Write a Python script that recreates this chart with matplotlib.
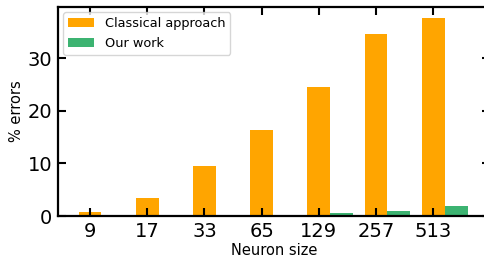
import numpy as np
import matplotlib.pyplot as plt

neuron_sizes = ["9", "17", "33", "65", "129", "257", "513"]
classical = [0.8, 3.4, 9.5, 16.4, 24.5, 34.6, 37.6]
our_work = [0.0, 0.0, 0.0, 0.0, 0.55, 0.95, 1.9]


def plot():
    fig = plt.figure(figsize=(4.85, 2.64), dpi=100)
    ax = fig.add_axes([0.1196, 0.1818, 0.8904, 0.7917])

    x = np.arange(len(neuron_sizes))
    width = 0.4
    ax.bar(x, classical, width, color="orange", label="Classical approach")
    ax.bar(x + width, our_work, width, color="mediumseagreen", label="Our work")

    ax.set_xticks(x)
    ax.set_xticklabels(neuron_sizes)
    ax.set_xlim(-0.56, 6.99)
    ax.set_ylim(0, 39.7)
    ax.set_yticks([0, 10, 20, 30])

    ax.tick_params(direction="in", top=True, right=True, length=6, width=1.5,
                   labelsize=14, pad=4)
    for s in ax.spines.values():
        s.set_linewidth(1.6)
    # the original is cropped just before its right frame line
    ax.spines["right"].set_visible(False)

    ax.set_xlabel("Neuron size", fontsize=10.5, labelpad=2)
    ax.set_ylabel("% errors", fontsize=10.5, labelpad=3)
    ax.legend(loc="upper left", fontsize=9.3, borderaxespad=0.4)

    plt.savefig("out.png", dpi=100)


if __name__ == "__main__":
    plot()
